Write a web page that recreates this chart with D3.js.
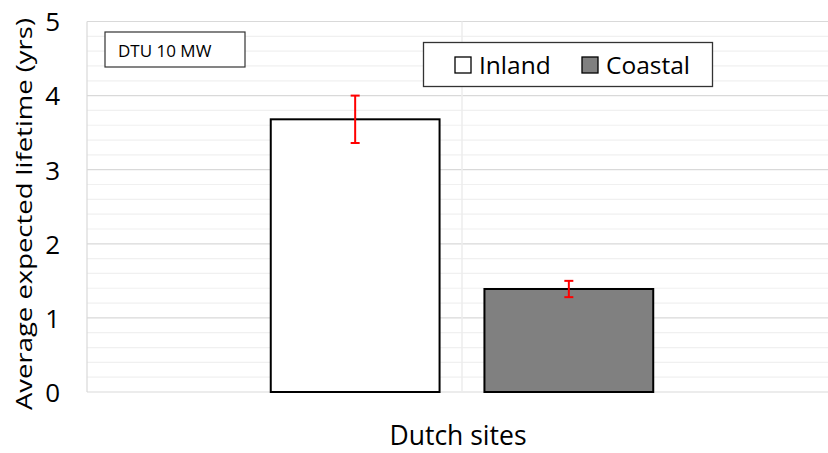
<!DOCTYPE html>
<html>
<head>
<meta charset="utf-8">
<script src="https://cdn.jsdelivr.net/npm/d3@7"></script>
<style>
  body { margin: 0; background: #fff; }
  svg { display: block; font-family: "Open Sans", "Noto Sans", sans-serif; }
</style>
</head>
<body>
<div id="chart"></div>
<script>
// data
const groups = ["Inland", "Coastal"];
const values = [3.68, 1.39];
const errLow = [3.36, 1.28];
const errHigh = [4.0, 1.5];
const fills = ["#ffffff", "#808080"];
const yTicks = [0, 1, 2, 3, 4, 5];
const categoryLabel = "Dutch sites";
const yTitle = "Average expected lifetime (yrs)";
const turbine = "DTU 10 MW";

const width = 828, height = 453;
const margin = { top: 21.5, right: -9, bottom: 61, left: 87 };

const svg = d3.select("#chart").append("svg")
  .attr("width", width)
  .attr("height", height);

const y = d3.scaleLinear([0, 5], [height - margin.bottom, margin.top]);
const x = d3.scaleBand([categoryLabel], [margin.left, width - margin.right]);
const xs = d3.scaleBand(groups, [0, x.bandwidth()]).paddingInner(0.21).paddingOuter(0.86);

// gridlines
const minor = d3.range(0, 5.001, 0.2).filter(v => Math.abs(v - Math.round(v)) > 1e-6);
svg.append("g").selectAll("line").data(minor).join("line")
  .attr("x1", margin.left).attr("x2", width)
  .attr("y1", d => y(d)).attr("y2", d => y(d))
  .attr("stroke", "#f0f0f0").attr("stroke-width", 1.2);
svg.append("g").selectAll("line").data(yTicks).join("line")
  .attr("x1", margin.left).attr("x2", width)
  .attr("y1", d => y(d)).attr("y2", d => y(d))
  .attr("stroke", "#d9d9d9").attr("stroke-width", 1.2);
svg.append("line")
  .attr("x1", margin.left).attr("x2", margin.left)
  .attr("y1", y(5)).attr("y2", y(0))
  .attr("stroke", "#d9d9d9").attr("stroke-width", 1.2);
svg.append("line")
  .attr("x1", x(categoryLabel) + x.bandwidth() / 2).attr("x2", x(categoryLabel) + x.bandwidth() / 2)
  .attr("y1", y(5)).attr("y2", y(0))
  .attr("stroke", "#ececec").attr("stroke-width", 1.5);

// y axis labels
const yAxis = svg.append("g")
  .attr("transform", `translate(${margin.left - 27},0)`)
  .call(d3.axisLeft(y).tickValues(yTicks).tickSize(0).tickPadding(0).tickFormat(d3.format("d")));
yAxis.select(".domain").remove();
yAxis.selectAll("text").attr("font-size", 26).attr("font-family", "Open Sans").attr("fill", "#000").attr("dy", "0.36em");

// bars
svg.append("g").selectAll("rect").data(groups).join("rect")
  .attr("x", d => x(categoryLabel) + xs(d))
  .attr("width", xs.bandwidth())
  .attr("y", (d, i) => y(values[i]))
  .attr("height", (d, i) => y(0) - y(values[i]))
  .attr("fill", (d, i) => fills[i])
  .attr("stroke", "#000").attr("stroke-width", 2);

// error bars
const eb = svg.append("g").attr("stroke", "#ff0000").attr("stroke-width", 2);
groups.forEach((g, i) => {
  const cx = x(categoryLabel) + xs(g) + xs.bandwidth() / 2;
  eb.append("line").attr("x1", cx).attr("x2", cx).attr("y1", y(errLow[i])).attr("y2", y(errHigh[i]));
  [errLow[i], errHigh[i]].forEach(v => {
    eb.append("line").attr("x1", cx - 4.5).attr("x2", cx + 4.5).attr("y1", y(v)).attr("y2", y(v));
  });
});

// x label
svg.append("text")
  .attr("x", x(categoryLabel) + x.bandwidth() / 2 - 4)
  .attr("y", 445)
  .attr("text-anchor", "middle")
  .attr("font-size", 26.5)
  .text(categoryLabel);

// y title
svg.append("text")
  .attr("transform", `translate(32,${214}) rotate(-90)`)
  .attr("text-anchor", "middle")
  .attr("font-size", 22)
  .attr("textLength", 392)
  .attr("lengthAdjust", "spacingAndGlyphs")
  .text(yTitle);

// DTU box
svg.append("rect").attr("x", 105).attr("y", 32).attr("width", 140).attr("height", 35)
  .attr("fill", "#fff").attr("stroke", "#333").attr("stroke-width", 1.2);
svg.append("text").attr("x", 118).attr("y", 57).attr("font-size", 17).text(turbine);

// legend
const legend = svg.append("g");
legend.append("rect").attr("x", 423.5).attr("y", 42.5).attr("width", 289).attr("height", 44)
  .attr("fill", "#fff").attr("stroke", "#333").attr("stroke-width", 1.3);
const lx = [455, 582];
groups.forEach((g, i) => {
  legend.append("rect").attr("x", lx[i]).attr("y", 57).attr("width", 16).attr("height", 16)
    .attr("fill", fills[i]).attr("stroke", "#000").attr("stroke-width", 1.3);
  legend.append("text").attr("x", lx[i] + 24).attr("y", 73.5).attr("font-size", 24.5).text(g);
});
</script>
</body>
</html>
